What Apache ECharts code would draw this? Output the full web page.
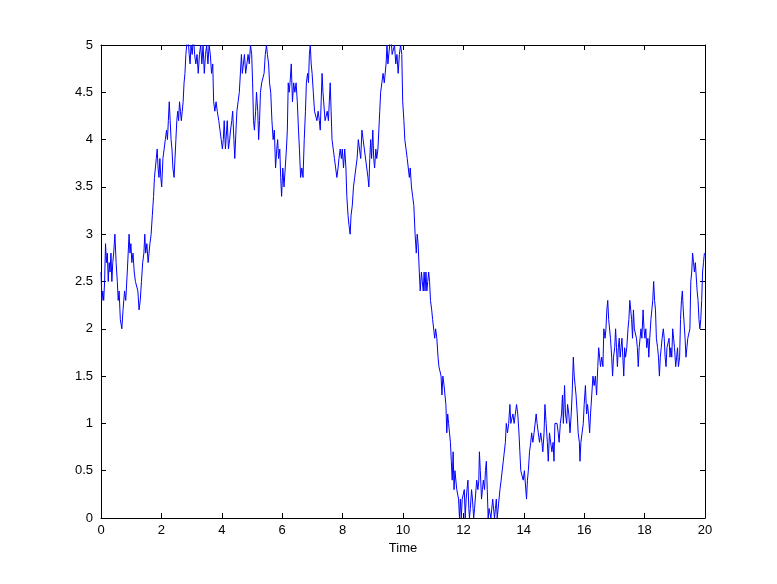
<!DOCTYPE html>
<html>
<head>
<meta charset="utf-8">
<script src="https://cdn.jsdelivr.net/npm/echarts@6/dist/echarts.min.js"></script>
<style>html,body{margin:0;padding:0;background:#fff}#c{width:777px;height:584px}</style>
</head>
<body>
<div id="c"></div>
<script>
var xTicks = [0, 2, 4, 6, 8, 10, 12, 14, 16, 18, 20];
var yTicks = [0, 0.5, 1, 1.5, 2, 2.5, 3, 3.5, 4, 4.5, 5];
var xLabel = 'Time';

var times = [
0.00,0.03,0.06,0.09,0.12,0.15,0.18,0.21,0.24,0.27,
0.30,0.33,0.36,0.39,0.42,0.46,0.50,0.54,0.57,0.60,
0.64,0.69,0.73,0.78,0.82,0.87,0.90,0.93,0.96,0.99,
1.02,1.06,1.10,1.14,1.18,1.22,1.26,1.30,1.34,1.38,
1.42,1.45,1.48,1.52,1.56,1.59,1.62,1.66,1.70,1.74,
1.77,1.80,1.83,1.86,1.89,1.92,1.95,1.98,2.01,2.05,
2.09,2.13,2.17,2.20,2.23,2.26,2.29,2.32,2.35,2.38,
2.42,2.45,2.48,2.51,2.54,2.57,2.60,2.63,2.66,2.69,
2.72,2.75,2.78,2.81,2.84,2.88,2.92,2.95,2.98,3.02,
3.06,3.10,3.14,3.18,3.22,3.26,3.30,3.34,3.38,3.42,
3.46,3.50,3.54,3.58,3.62,3.66,3.70,3.73,3.77,3.81,
3.85,3.90,3.94,3.98,4.02,4.05,4.08,4.12,4.16,4.18,
4.22,4.26,4.29,4.33,4.36,4.40,4.43,4.47,4.50,4.54,
4.58,4.62,4.65,4.68,4.72,4.75,4.79,4.83,4.87,4.91,
4.95,4.99,5.02,5.05,5.08,5.12,5.15,5.19,5.22,5.25,
5.28,5.32,5.36,5.40,5.44,5.48,5.51,5.55,5.58,5.62,
5.66,5.70,5.74,5.78,5.82,5.85,5.88,5.92,5.95,5.98,
6.02,6.06,6.10,6.14,6.17,6.20,6.23,6.26,6.30,6.34,
6.38,6.42,6.46,6.50,6.54,6.57,6.61,6.65,6.69,6.73,
6.77,6.80,6.84,6.87,6.90,6.93,6.96,6.99,7.03,7.07,
7.11,7.15,7.19,7.23,7.26,7.29,7.32,7.35,7.38,7.42,
7.46,7.49,7.53,7.56,7.59,7.62,7.65,7.69,7.73,7.77,
7.81,7.85,7.88,7.92,7.96,7.99,8.03,8.07,8.11,8.14,
8.18,8.21,8.25,8.28,8.32,8.36,8.40,8.44,8.48,8.52,
8.56,8.60,8.64,8.68,8.72,8.76,8.80,8.84,8.87,8.90,
8.93,8.96,9.00,9.03,9.06,9.10,9.13,9.17,9.20,9.23,
9.26,9.30,9.34,9.38,9.41,9.44,9.47,9.50,9.53,9.56,
9.60,9.64,9.68,9.72,9.76,9.80,9.84,9.88,9.92,9.96,
9.99,10.03,10.06,10.10,10.14,10.18,10.21,10.24,10.28,10.32,
10.36,10.40,10.44,10.47,10.50,10.54,10.57,10.61,10.64,10.67,
10.70,10.73,10.76,10.79,10.82,10.85,10.88,10.91,10.95,10.98,
11.02,11.05,11.08,11.12,11.16,11.19,11.22,11.26,11.29,11.32,
11.36,11.39,11.42,11.45,11.48,11.51,11.54,11.57,11.60,11.63,
11.66,11.69,11.72,11.75,11.78,11.81,11.84,11.87,11.90,11.93,
11.96,11.99,12.03,12.06,12.09,12.12,12.15,12.18,12.20,12.23,
12.27,12.30,12.34,12.37,12.40,12.44,12.48,12.51,12.53,12.56,
12.60,12.63,12.66,12.70,12.73,12.76,12.79,12.82,12.85,12.88,
12.91,12.94,12.97,13.00,13.03,13.06,13.09,13.12,13.15,13.18,
13.21,13.25,13.28,13.32,13.36,13.39,13.42,13.46,13.50,13.54,
13.57,13.60,13.64,13.68,13.72,13.76,13.80,13.84,13.87,13.90,
13.94,13.98,14.02,14.05,14.09,14.12,14.15,14.19,14.23,14.26,
14.30,14.34,14.37,14.41,14.44,14.48,14.52,14.56,14.60,14.63,
14.67,14.70,14.74,14.78,14.81,14.85,14.89,14.93,14.97,15.00,
15.03,15.07,15.10,15.14,15.17,15.21,15.25,15.28,15.31,15.35,
15.38,15.42,15.45,15.49,15.53,15.57,15.60,15.64,15.67,15.70,
15.73,15.77,15.80,15.84,15.86,15.89,15.93,15.97,16.00,16.04,
16.08,16.11,16.14,16.18,16.21,16.25,16.29,16.33,16.37,16.41,
16.45,16.48,16.51,16.54,16.58,16.62,16.65,16.69,16.72,16.75,
16.78,16.81,16.84,16.87,16.91,16.94,16.97,17.01,17.04,17.07,
17.10,17.13,17.16,17.19,17.22,17.25,17.28,17.31,17.34,17.37,
17.41,17.45,17.48,17.51,17.54,17.57,17.60,17.63,17.66,17.70,
17.73,17.76,17.79,17.82,17.85,17.88,17.91,17.95,17.98,18.01,
18.04,18.07,18.11,18.14,18.17,18.21,18.24,18.27,18.30,18.33,
18.36,18.39,18.43,18.46,18.49,18.52,18.55,18.58,18.62,18.65,
18.68,18.71,18.74,18.78,18.81,18.84,18.87,18.90,18.93,18.96,
18.99,19.03,19.06,19.09,19.12,19.16,19.19,19.22,19.25,19.28,
19.31,19.34,19.37,19.40,19.43,19.46,19.50,19.53,19.56,19.59,
19.62,19.65,19.68,19.71,19.74,19.77,19.80,19.83,19.86,19.89,
19.92,19.95,19.98,20.00
];

var values = [
2.6,2.3,2.4,2.3,2.5,2.9,2.7,2.8,2.5,2.7,
2.6,2.8,2.5,2.7,2.8,3.0,2.7,2.5,2.3,2.4,
2.1,2.0,2.2,2.4,2.3,2.6,2.8,3.0,2.8,2.9,
2.7,2.8,2.6,2.5,2.5,2.4,2.2,2.3,2.5,2.7,
2.8,3.0,2.8,2.9,2.7,2.8,2.9,3.0,3.2,3.4,
3.6,3.7,3.8,3.9,3.7,3.6,3.8,3.6,3.5,3.8,
3.9,4.0,4.1,4.0,4.2,4.4,4.2,4.0,3.9,3.7,
3.6,3.8,4.0,4.2,4.3,4.2,4.4,4.3,4.2,4.3,
4.4,4.6,4.7,4.9,5.0,5.1,4.9,4.8,5.0,4.9,
5.1,4.9,4.8,4.9,4.7,4.9,5.0,4.8,5.0,4.7,
4.9,5.0,4.8,5.0,4.9,4.7,4.8,4.4,4.3,4.4,
4.3,4.2,4.1,4.0,3.9,4.0,4.2,3.9,4.1,4.2,
3.9,4.0,4.1,4.2,4.3,4.0,3.8,4.1,4.3,4.4,
4.5,4.5,4.9,4.7,4.7,4.9,4.7,4.8,4.9,4.8,
5.0,4.9,4.6,4.2,4.1,4.3,4.5,4.3,4.0,4.2,
4.5,4.6,4.6,4.7,4.9,5.0,4.9,4.8,4.6,4.5,
4.2,4.0,4.1,3.7,3.9,4.0,3.8,3.9,3.6,3.4,
3.7,3.5,3.7,3.9,4.1,4.6,4.5,4.6,4.8,4.4,
4.6,4.5,4.6,4.4,4.1,3.9,3.6,3.7,3.6,4.0,
4.3,4.6,4.7,4.6,4.9,5.0,4.8,4.7,4.5,4.3,
4.3,4.2,4.3,4.2,4.1,4.4,4.7,4.5,4.5,4.2,
4.2,4.3,4.2,4.4,4.6,4.3,4.0,3.9,3.8,3.7,
3.6,3.7,3.8,3.9,3.8,3.9,3.7,3.9,3.7,3.4,
3.2,3.1,3.0,3.2,3.3,3.5,3.6,3.7,3.8,4.0,
3.9,3.8,4.1,4.0,3.9,3.9,3.7,3.6,3.5,3.8,
4.0,3.8,4.1,3.8,3.7,3.9,3.8,3.9,4.1,4.3,
4.5,4.6,4.7,4.6,4.7,4.8,5.0,4.8,4.8,5.0,
5.1,4.9,4.9,5.0,4.8,4.9,4.7,4.9,5.0,4.9,
4.4,4.2,4.0,3.9,3.8,3.8,3.6,3.7,3.5,3.4,
3.3,3.0,2.8,3.0,2.9,2.6,2.4,2.6,2.5,2.4,
2.6,2.4,2.6,2.4,2.5,2.6,2.5,2.3,2.2,2.1,
2.1,1.9,2.0,1.9,1.7,1.6,1.6,1.5,1.3,1.5,
1.4,1.3,1.2,0.9,1.1,1.0,0.9,0.8,0.6,0.4,
0.7,0.3,0.5,0.5,0.3,0.3,0.2,0.0,0.2,0.0,
0.2,0.2,0.3,0.0,0.2,0.2,0.4,0.1,0.0,0.1,
0.3,0.2,0.0,0.1,0.1,0.4,0.3,0.4,0.7,0.5,
0.2,0.3,0.4,0.3,0.5,0.6,0.3,0.0,0.1,0.1,
0.0,0.0,0.2,0.2,0.0,0.1,0.2,0.0,0.0,0.2,
0.3,0.4,0.4,0.6,0.6,0.8,1.0,0.9,1.0,1.2,
1.0,1.0,1.1,1.0,1.0,1.2,1.1,0.9,0.7,0.5,
0.5,0.4,0.5,0.5,0.2,0.4,0.5,0.7,0.8,0.9,
0.8,0.9,0.9,1.1,1.0,0.9,0.8,0.9,0.8,0.7,
0.9,1.2,1.0,0.8,0.6,0.9,0.9,0.7,0.8,0.6,
1.0,1.0,1.0,0.9,0.8,1.0,1.1,1.3,1.0,1.4,
1.1,1.0,1.2,1.1,0.9,1.1,1.3,1.7,1.5,1.4,
1.3,1.1,0.9,0.8,0.6,0.8,0.9,1.0,1.2,1.4,
1.1,1.2,1.1,0.9,1.1,1.3,1.5,1.4,1.5,1.3,
1.6,1.8,1.7,1.6,1.7,1.6,2.0,1.9,2.0,2.2,
2.3,2.1,2.1,1.9,1.7,1.5,1.7,1.8,2.0,1.8,
1.6,1.8,1.9,1.7,1.8,1.9,1.7,1.5,1.8,1.7,
1.8,2.0,2.1,2.3,2.2,2.1,1.9,2.2,2.0,2.0,
1.9,1.8,1.6,1.8,1.9,2.0,1.9,2.2,2.0,1.9,
2.0,1.8,1.9,1.7,1.9,2.1,2.2,2.3,2.5,2.3,
2.2,1.9,1.8,1.7,1.5,1.7,1.8,1.9,2.0,1.9,
1.7,1.6,1.8,1.8,1.9,1.7,1.8,1.7,2.0,1.9,
1.8,1.6,1.7,1.8,1.6,1.7,2.1,2.3,2.4,2.2,
2.2,1.9,1.7,1.8,1.9,1.9,2.0,2.5,2.6,2.8,
2.7,2.6,2.7,2.7,2.4,2.3,2.1,2.0,2.1,2.3,
2.6,2.7,2.8,2.8
];

var points = times.map(function (t, i) { return [t, values[i]]; });

var axisColor = '#000';
var font = 'Liberation Sans, Arial, Helvetica, sans-serif';
function baseAxis(extra) {
  var a = {
    type: 'value',
    axisLine: { show: true, onZero: false, lineStyle: { color: axisColor, width: 1 } },
    axisTick: { show: true, inside: true, length: 5, lineStyle: { color: axisColor, width: 1 } },
    splitLine: { show: false },
    axisLabel: { color: '#000', fontFamily: font, fontSize: 13 }
  };
  for (var k in extra) a[k] = extra[k];
  return a;
}

var chart = echarts.init(document.getElementById('c'), null, { renderer: 'canvas' });
chart.setOption({
  animation: false,
  backgroundColor: '#fff',
  grid: { left: 101, right: 72, top: 45, bottom: 66, containLabel: false },
  xAxis: [
    baseAxis({ min: xTicks[0], max: xTicks[xTicks.length - 1], interval: 2, position: 'bottom',
      name: xLabel, nameLocation: 'middle', nameGap: 23,
      nameTextStyle: { color: '#000', fontFamily: font, fontSize: 13 },
      axisLabel: { color: '#000', fontFamily: font, fontSize: 13, margin: 6 } }),
    baseAxis({ min: xTicks[0], max: xTicks[xTicks.length - 1], interval: 2, position: 'top',
      axisLabel: { show: false } })
  ],
  yAxis: [
    baseAxis({ min: yTicks[0], max: yTicks[yTicks.length - 1], interval: 0.5, position: 'left',
      axisLabel: { color: '#000', fontFamily: font, fontSize: 13, margin: 8 } }),
    baseAxis({ min: yTicks[0], max: yTicks[yTicks.length - 1], interval: 0.5, position: 'right',
      axisLabel: { show: false } })
  ],
  series: [{
    type: 'line',
    xAxisIndex: 0,
    yAxisIndex: 0,
    data: points,
    showSymbol: false,
    symbol: 'none',
    clip: true,
    lineStyle: { color: '#0000ff', width: 1 },
    itemStyle: { color: '#0000ff' }
  }]
});
</script>
</body>
</html>
